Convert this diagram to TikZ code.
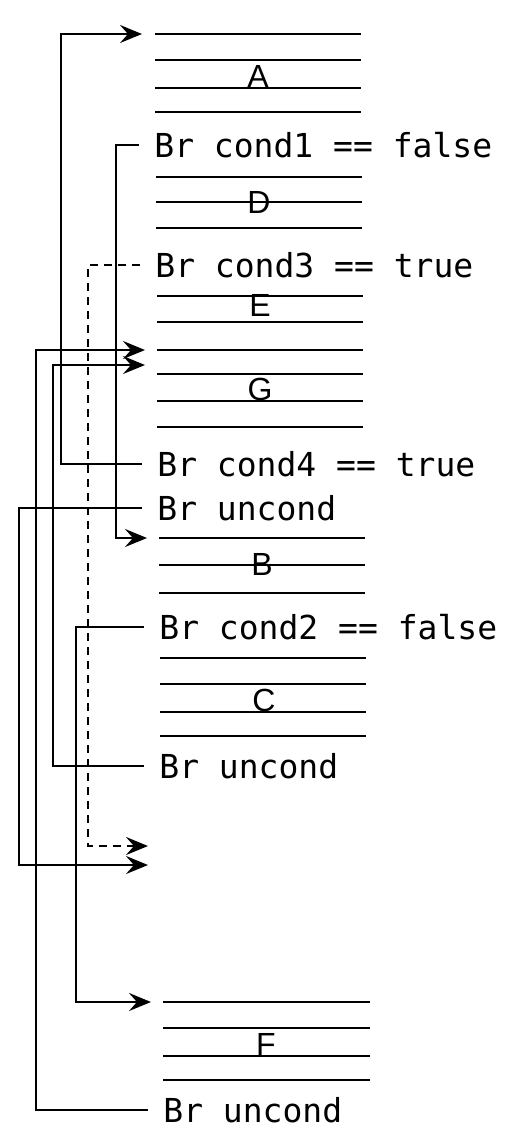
\documentclass[tikz,border=0pt]{standalone}
\usepackage{fontspec}
\newfontfamily\codefont{DejaVu Sans Mono}
\newfontfamily\blockfont{Liberation Sans}
\usetikzlibrary{arrows.meta}

\begin{document}
\begin{tikzpicture}[x=0.5pt,y=-0.5pt]
\tikzset{branch/.style = {anchor=west,inner xsep=7.5pt,inner ysep=0pt,
text height=12pt,text depth=0pt,font=\codefont\fontsize{16.5}{18}\selectfont}}
\tikzset{block/.style = {inner sep=0pt,text height=11.5pt,text depth=0pt,
font=\blockfont\fontsize{16}{18}\selectfont}}
\tikzset{rule/.style = {line width=1.15pt}}
\tikzset{edge/.style = {line width=1.15pt,->,> = {Stealth[length=11pt,width=9pt,inset=4pt]}}}
\useasboundingbox (0,0) rectangle (531,1148);
% blocks
\foreach \y in {34,60,88,112} \draw[rule] (155,\y) -- ++(206,0);
\foreach \y in {177,202,228} \draw[rule] (156,\y) -- ++(206,0);
\foreach \y in {296,322} \draw[rule] (157,\y) -- ++(206,0);
\foreach \y in {350,374,401,427} \draw[rule] (157,\y) -- ++(206,0);
\foreach \y in {538,565,593} \draw[rule] (159,\y) -- ++(206,0);
\foreach \y in {658,684,712,736} \draw[rule] (160,\y) -- ++(206,0);
\foreach \y in {1002,1028,1056,1080} \draw[rule] (163,\y) -- ++(207,0);
% block names
\node[block,anchor=south] (A) at (258,88) {A};
\node[block] (D) at (259,202) {D};
\node[block,anchor=south] (E) at (260,317) {E};
\node[block,anchor=south] (G) at (260,401) {G};
\node[block] (B) at (262,564) {B};
\node[block,anchor=south] (C) at (264,712) {C};
\node[block,anchor=south] (F) at (266,1056) {F};
% branches
\node[branch] (c1) at (139,145) {Br cond1 == false};
\node[branch] (c3) at (140,265) {Br cond3 == true};
\node[branch] (c4) at (142,464) {Br cond4 == true};
\node[branch] (u1) at (142,508) {Br uncond};
\node[branch] (c2) at (144,627) {Br cond2 == false};
\node[branch] (u2) at (144,766) {Br uncond};
\node[branch] (u3) at (148,1110) {Br uncond};
% targets
\coordinate (toA) at (142,34);
\coordinate (toG1) at (145,350);
\coordinate (toG2) at (145,365);
\coordinate (toB) at (147,538);
\coordinate (toX) at (148,846);
\coordinate (toY) at (148,865);
\coordinate (toF) at (151,1002);
%edges
\draw[edge] (c4.west) -- ++(-81,0) |- (toA);
\draw[edge] (c1.west) -- ++(-23,0) |- (toB);
\draw[edge,dash pattern=on 4pt off 3pt] (c3.west) -- ++(-52,0) |- (toX);
\draw[edge] (u1.west) -- ++(-123,0) |- (toY);
\draw[edge] (u3.west) -- ++(-112,0) |- (toG1);
\draw[edge] (u2.west) -- ++(-91,0) |- (toG2);
\draw[edge] (c2.west) -- ++(-68,0) |- (toF);
\end{tikzpicture}
\end{document}
